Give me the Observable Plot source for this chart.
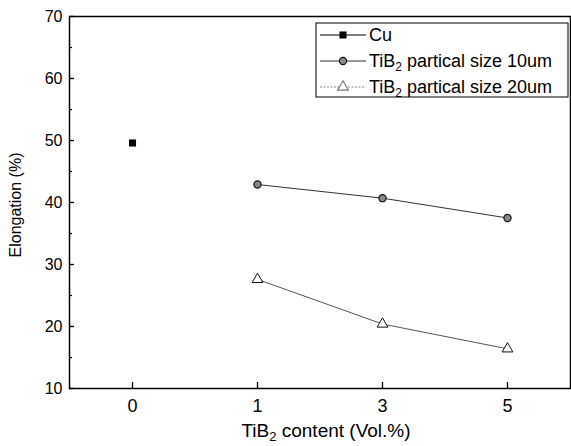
<!DOCTYPE html>
<html><head><meta charset="utf-8">
<script src="https://cdn.jsdelivr.net/npm/d3@7"></script>
<script src="https://cdn.jsdelivr.net/npm/@observablehq/plot@0.6"></script>
<style>
body{margin:0;background:#fff}
svg{font-family:"Liberation Sans",Arial,sans-serif}
</style>
</head><body><div id="chart"></div>
<script>
// ---- data ----
const contents = ["0", "1", "3", "5"];
const cuContent = ["0"];
const cuElong = [49.6];
const tib10Content = ["1", "3", "5"];
const tib10Elong = [42.9, 40.7, 37.5];
const tib20Content = ["1", "3", "5"];
const tib20Elong = [27.6, 20.4, 16.4];
const yTicks = [10, 20, 30, 40, 50, 60, 70];
const yMinorTicks = [15, 25, 35, 45, 55, 65];
const legendLabels = [["Cu"], ["TiB", "2", " partical size 10um"], ["TiB", "2", " partical size 20um"]];
const xLabelParts = ["TiB", "2", " content (Vol.%)"];
const yLabel = "Elongation (%)";

const cu = cuContent.map((c, i) => ({c, v: cuElong[i]}));
const t10 = tib10Content.map((c, i) => ({c, v: tib10Elong[i]}));
const t20 = tib20Content.map((c, i) => ({c, v: tib20Elong[i]}));

const FONT = '"Liberation Sans", Arial, sans-serif';

const plot = Plot.plot({
  width: 571, height: 446,
  marginLeft: 69, marginRight: 1, marginTop: 16, marginBottom: 58,
  style: {fontFamily: FONT, fontSize: "16px", color: "#000", background: "#fff", overflow: "visible"},
  x: {type: "point", domain: contents, padding: 0.5},
  y: {domain: [10, 70]},
  marks: [
    // labels
    Plot.axisY(yTicks, {tickSize: 0, tickPadding: 7, fontSize: 16, label: null}),
    Plot.axisX(contents, {tickSize: 0, tickPadding: 11, fontSize: 18, label: null}),
    // inward ticks
    Plot.axisY(yTicks, {tickSize: 5, dx: 5, tickFormat: () => "", label: null, strokeWidth: 1.3}),
    Plot.axisY(yMinorTicks, {tickSize: 3, dx: 3, tickFormat: () => "", label: null, strokeWidth: 1.2}),
    Plot.axisX(contents, {tickSize: 6, dy: -6, tickFormat: () => "", label: null, strokeWidth: 1.3}),
    Plot.frame({stroke: "#000", strokeWidth: 1.5}),
    Plot.line(t10, {x: "c", y: "v", stroke: "#333", strokeWidth: 1}),
    Plot.line(t20, {x: "c", y: "v", stroke: "#555", strokeWidth: 1}),
    Plot.dot(cu, {x: "c", y: "v", symbol: "square", r: 4, fill: "#000", stroke: "none"}),
    Plot.dot(t10, {x: "c", y: "v", symbol: "circle", r: 3.6, fill: "#888", stroke: "#111", strokeWidth: 1.2}),
    Plot.dot(t20, {x: "c", y: "v", symbol: "triangle", r: 4, fill: "#fff", stroke: "#111", strokeWidth: 1})
  ]
});
document.getElementById("chart").appendChild(plot);

const svg = d3.select(plot);

// axis labels
const xl = svg.append("text").attr("x", 326).attr("y", 437).attr("text-anchor", "middle")
  .attr("font-size", 19).attr("fill", "#000");
xl.append("tspan").text(xLabelParts[0]);
xl.append("tspan").attr("font-size", 13).attr("dy", 4).text(xLabelParts[1]);
xl.append("tspan").attr("dy", -4).text(xLabelParts[2]);

svg.append("text").attr("transform", "translate(21,205) rotate(-90)").attr("text-anchor", "middle")
  .attr("font-size", 16).attr("fill", "#000").text(yLabel);

// legend
const lg = svg.append("g");
lg.append("rect").attr("x", 316).attr("y", 23).attr("width", 252).attr("height", 74)
  .attr("fill", "#fff").attr("stroke", "#000").attr("stroke-width", 1);
const rows = [35, 61, 87];
const lineStyles = [{s: "#000", d: null}, {s: "#333", d: null}, {s: "#888", d: "2,1.5"}];
rows.forEach((ry, i) => {
  lg.append("line").attr("x1", 320).attr("x2", 366).attr("y1", ry).attr("y2", ry)
    .attr("stroke", lineStyles[i].s).attr("stroke-width", 1).attr("stroke-dasharray", lineStyles[i].d);
  const sym = [d3.symbolSquare, d3.symbolCircle, d3.symbolTriangle][i];
  const size = [16 * Math.PI, 3.6 * 3.6 * Math.PI, 16 * Math.PI][i];
  lg.append("path").attr("d", d3.symbol(sym, size)()).attr("transform", `translate(343,${ry})`)
    .attr("fill", ["#000", "#888", "#fff"][i]).attr("stroke", ["none", "#111", "#777"][i]).attr("stroke-width", 1.1);
  const t = lg.append("text").attr("x", 369).attr("y", ry + 6).attr("text-anchor", "start")
    .attr("font-size", 18).attr("fill", "#000");
  const parts = legendLabels[i];
  t.append("tspan").text(parts[0]);
  if (parts.length > 1) {
    t.append("tspan").attr("font-size", 12).attr("dy", 4).text(parts[1]);
    t.append("tspan").attr("dy", -4).text(parts[2]);
  }
});
</script>
</body></html>
